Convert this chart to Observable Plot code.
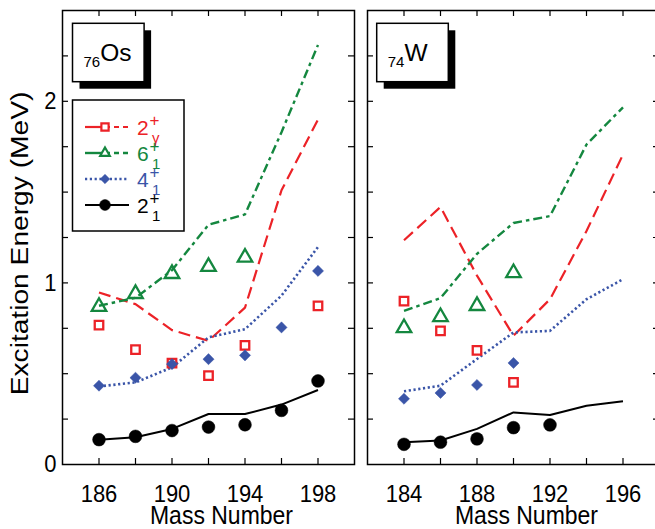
<!DOCTYPE html>
<html>
<head>
<meta charset="utf-8">
<script src="https://cdn.jsdelivr.net/npm/d3@7"></script>
<script src="https://cdn.jsdelivr.net/npm/@observablehq/plot@0.6"></script>
<style>
html,body{margin:0;padding:0;background:#fff;overflow:hidden}
#chart{position:relative;width:655px;height:529px;overflow:hidden;font-family:"Liberation Sans",Arial,Helvetica,sans-serif;background:#fff}
#chart svg{position:absolute;top:0;overflow:visible}
</style>
</head>
<body>
<div id="chart"></div>
<script>
// ---------- data (MeV) ----------
// Osmium, Z = 76
const massOs   = [186, 188, 190, 192, 194, 196, 198];
const expOs_2g = [0.767, 0.633, 0.558, 0.489, 0.656, null, 0.874];
const expOs_6  = [0.869, 0.940, 1.050, 1.089, 1.140, null, null];
const expOs_4  = [0.434, 0.478, 0.553, 0.580, 0.601, 0.755, 1.066];
const expOs_2  = [0.137, 0.155, 0.187, 0.206, 0.219, 0.298, 0.460];
const thOs_2g  = [0.947, 0.883, 0.740, 0.681, 0.864, 1.510, 1.900];
const thOs_6   = [0.874, 0.918, 1.070, 1.320, 1.377, 1.830, 2.310];
const thOs_4   = [0.430, 0.452, 0.535, 0.700, 0.745, 0.930, 1.198];
const thOs_2   = [0.136, 0.150, 0.196, 0.278, 0.278, 0.330, 0.410];
// Tungsten, Z = 74
const massW    = [184, 186, 188, 190, 192, 194, 196];
const expW_2g  = [0.900, 0.736, 0.628, 0.452, null, null, null];
const expW_6   = [0.752, 0.813, 0.874, 1.055, null, null, null];
const expW_4   = [0.362, 0.394, 0.438, 0.559, null, null, null];
const expW_2   = [0.111, 0.123, 0.141, 0.203, 0.218, null, null];
const thW_2g   = [1.235, 1.418, 1.040, 0.709, 0.910, 1.286, 1.707];
const thW_6    = [0.846, 0.916, 1.160, 1.330, 1.368, 1.762, 1.967];
const thW_4    = [0.403, 0.434, 0.581, 0.727, 0.736, 0.910, 1.020];
const thW_2    = [0.122, 0.132, 0.196, 0.287, 0.273, 0.324, 0.348];

// series and labels
const seriesKeys   = ["2g", "6", "4", "2"];
const seriesMain   = ["2", "6", "4", "2"];
const seriesSub    = ["\u03b3", "1", "1", "1"];
const seriesColors = ["#ec2227", "#14873f", "#3a55a8", "#000000"];
const elementZ     = ["76", "74"];
const elementName  = ["Os", "W"];

// ticks
const yTickLabels = [0, 1, 2];
const yTicks = [0.25, 0.5, 0.75, 1, 1.25, 1.5, 1.75, 2, 2.25];
const xTicksOs = [186, 188, 190, 192, 194, 196, 198];
const xLabelsOs = [186, 190, 194, 198];
const xTicksW = [184, 186, 188, 190, 192, 194, 196];
const xLabelsW = [184, 188, 192, 196];

// styles
const lineDash   = ["12,6", "9,4,3.5,4", "2.2,2.6", null];
const lineWidth  = [2.2, 2.4, 2.6, 2];
const symbols    = ["square", "triangle", "diamond2", "circle"];
const symR       = [4.8, 5.4, 5, 6.4];
const symFilled  = [false, false, true, true];
const TXT_STRETCH = 1.12;

const H = 529, MT = 10, MB = 65;

function panel(mass, exp, th, o) {
  const rowsTh = [], rowsExp = [];
  seriesKeys.forEach((k, i) => {
    mass.forEach((m, j) => {
      if (th[i][j] != null) rowsTh.push({mass: m, E: th[i][j], s: k});
      if (exp[i][j] != null) rowsExp.push({mass: m, E: exp[i][j], s: k});
    });
  });
  const innerW = o.width - o.marginLeft - o.marginRight;
  const innerH = H - MT - MB;
  const marks = [];
  seriesKeys.forEach((k, i) => {
    marks.push(Plot.line(rowsTh.filter(d => d.s === k), {
      x: "mass", y: "E", stroke: seriesColors[i], strokeWidth: lineWidth[i],
      strokeDasharray: lineDash[i], strokeLinejoin: "miter", strokeLinecap: "butt"
    }));
  });
  seriesKeys.forEach((k, i) => {
    marks.push(Plot.dot(rowsExp.filter(d => d.s === k), {
      x: "mass", y: "E", symbol: symbols[i], r: symR[i],
      fill: symFilled[i] ? seriesColors[i] : "none",
      stroke: seriesColors[i], strokeWidth: symFilled[i] ? 0.5 : 2.3
    }));
  });
  marks.push(Plot.frame({stroke: "black", strokeWidth: 1.5}));
  marks.push(Plot.tickX(o.xTicks, {x: d => d, insetTop: innerH - 6, stroke: "black", strokeWidth: 1.2}));
  marks.push(Plot.tickX(o.xTicks, {x: d => d, insetBottom: innerH - 6, stroke: "black", strokeWidth: 1.2}));
  marks.push(Plot.tickY(yTicks, {y: d => d, insetRight: innerW - 6, stroke: "black", strokeWidth: 1.2}));
  marks.push(Plot.tickY(yTicks, {y: d => d, insetLeft: innerW - 6, stroke: "black", strokeWidth: 1.2}));
  marks.push(Plot.axisX({ticks: o.xLabels, tickSize: 0, tickPadding: 20, label: null, fontSize: 22, tickFormat: d => String(d)}));
  if (o.showY) {
    marks.push(Plot.axisY({ticks: yTickLabels, tickSize: 0, tickPadding: 6, label: null, fontSize: 22, tickFormat: d => String(d)}));
    marks.push(Plot.text(["Excitation Energy (MeV)"], {
      frameAnchor: "left", rotate: -90, dx: -42, dy: 6, fontSize: 24.5,
      textAnchor: "middle", lineAnchor: "middle", fill: "black"
    }));
  }
  marks.push(Plot.text(["Mass Number"], {
    frameAnchor: "bottom", dx: 13, dy: 51, fontSize: 23, lineAnchor: "middle", fill: "black"
  }));
  const svg = Plot.plot({
    width: o.width, height: H,
    marginTop: MT, marginBottom: MB, marginLeft: o.marginLeft, marginRight: o.marginRight,
    x: {domain: o.xDomain, axis: null},
    y: {domain: [0, 2.5], axis: null},
    style: {fontFamily: "'Liberation Sans', Arial, Helvetica, sans-serif", color: "black", background: "transparent", overflow: "visible"},
    marks
  });
  // the original figure's lettering is slightly taller than the plain font
  svg.querySelectorAll("text").forEach(t => {
    let tr = t.getAttribute("transform") || "";
    if (!tr) {
      const x = +t.getAttribute("x") || 0, y = +t.getAttribute("y") || 0;
      t.removeAttribute("x"); t.removeAttribute("y");
      tr = `translate(${x},${y})`;
    }
    t.setAttribute("transform", tr + (tr.includes("rotate") ? ` scale(${TXT_STRETCH + 0.03},1)` : ` scale(1,${TXT_STRETCH})`));
  });
  return svg;
}

const chart = document.getElementById("chart");

const left = panel(massOs,
  [expOs_2g, expOs_6, expOs_4, expOs_2],
  [thOs_2g, thOs_6, thOs_4, thOs_2],
  {width: 360, marginLeft: 62, marginRight: 6, xDomain: [184, 200], xTicks: xTicksOs, xLabels: xLabelsOs, showY: true});
left.style.left = "0px";
chart.appendChild(left);

const right = panel(massW,
  [expW_2g, expW_6, expW_4, expW_2],
  [thW_2g, thW_6, thW_4, thW_2],
  {width: 309, marginLeft: 7, marginRight: 10, xDomain: [182, 198], xTicks: xTicksW, xLabels: xLabelsW, showY: false});
right.style.left = "360px";
chart.appendChild(right);

// ---------- overlay: element boxes and legend ----------
const ov = d3.create("svg").attr("width", 655).attr("height", 529)
  .style("left", "0px").style("font-family", "'Liberation Sans', Arial, Helvetica, sans-serif");

const boxX = [72.5, 376.7];
boxX.forEach((bx, i) => {
  ov.append("rect").attr("x", bx + 7).attr("y", 30.3).attr("width", 71.6).attr("height", 58.4).attr("fill", "black");
  ov.append("rect").attr("x", bx).attr("y", 23.3).attr("width", 71.6).attr("height", 58.4)
    .attr("fill", "white").attr("stroke", "black").attr("stroke-width", 1.5);
  const t = ov.append("text").attr("transform", `translate(${bx + 11},61)`).attr("fill", "black");
  t.append("tspan").attr("font-size", 15).attr("dy", 6).text(elementZ[i]);
  t.append("tspan").attr("font-size", 24.5).attr("dy", -6).text(elementName[i]);
});

// legend
const lg = ov.append("g");
lg.append("rect").attr("x", 72.5).attr("y", 100).attr("width", 111.5).attr("height", 131)
  .attr("fill", "white").attr("stroke", "black").attr("stroke-width", 1.5);
const rowY = [127, 153, 179, 205];
const legLeftDash = [null, null, "2.2,2.6", null];
const legRightDash = ["5,4", "5,4", "2.2,2.6", null];
const symMap = {square: d3.symbolSquare, triangle: d3.symbolTriangle2, diamond2: d3.symbolDiamond2, circle: d3.symbolCircle};
seriesKeys.forEach((k, i) => {
  const y = rowY[i], c = seriesColors[i];
  lg.append("line").attr("x1", 85).attr("x2", 105).attr("y1", y).attr("y2", y)
    .attr("stroke", c).attr("stroke-width", lineWidth[i]).attr("stroke-dasharray", legLeftDash[i]);
  lg.append("line").attr("x1", 105).attr("x2", 129).attr("y1", y).attr("y2", y)
    .attr("stroke", c).attr("stroke-width", lineWidth[i]).attr("stroke-dasharray", legRightDash[i]);
  const rr = symR[i] * 0.85;
  lg.append("path").attr("transform", `translate(105,${y})`)
    .attr("d", d3.symbol(symMap[symbols[i]], Math.PI * rr * rr)())
    .attr("fill", symFilled[i] ? c : "white").attr("stroke", c).attr("stroke-width", symFilled[i] ? 0.5 : 2.2);
  lg.append("text").attr("x", 137).attr("y", y + 7.5).attr("fill", c).attr("font-size", 21).text(seriesMain[i]);
  lg.append("text").attr("x", 149.5).attr("y", y - 1).attr("fill", c).attr("font-size", 17).text("+");
  lg.append("text").attr("x", 152).attr("y", y + 16).attr("fill", c).attr("font-size", 15).text(seriesSub[i]);
});
chart.appendChild(ov.node());
</script>
</body>
</html>
